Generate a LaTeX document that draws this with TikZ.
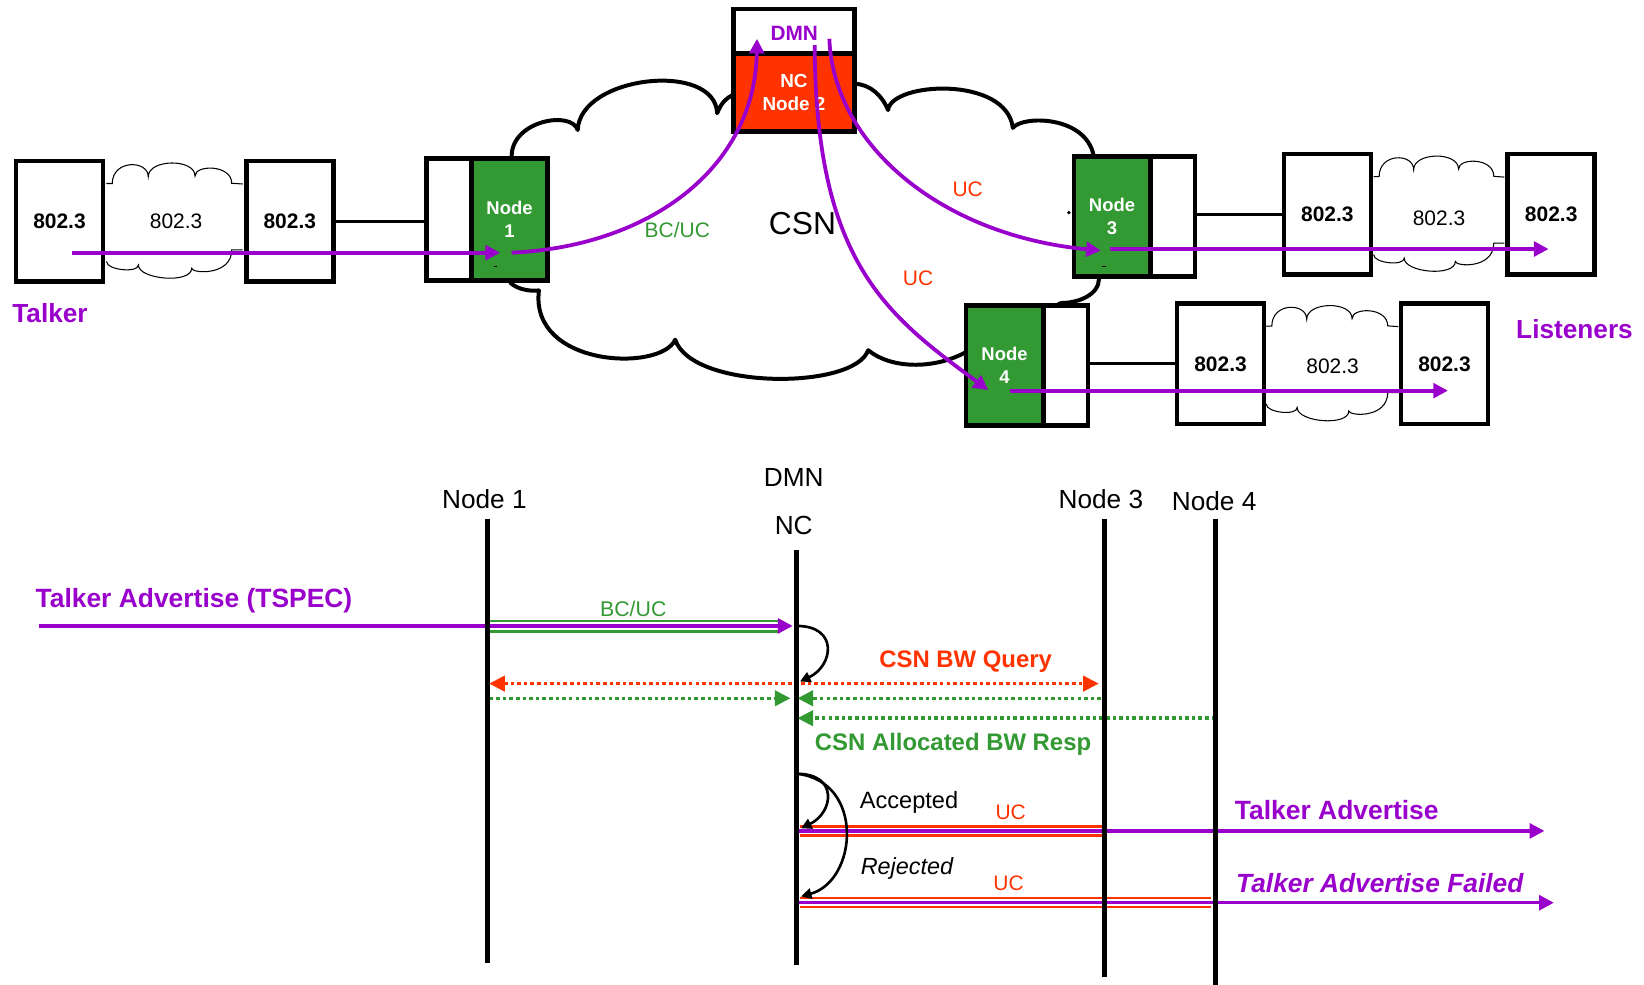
\documentclass[tikz,border=0pt]{standalone}
\usepackage{fontspec}
\setmainfont{Liberation Sans}
\usetikzlibrary{arrows.meta,calc}
\definecolor{avbpurple}{HTML}{9900CC}
\definecolor{avbgreen}{HTML}{339933}
\definecolor{avbred}{HTML}{FF3300}

\tikzset{
  ethbox/.style={draw, line width=4.5pt, fill=white, minimum width=83pt, minimum height=115pt,
    inner sep=0pt, font=\fontsize{20}{24}\selectfont\bfseries},
  port/.style={draw, line width=4.5pt, fill=white, minimum width=42.75pt, minimum height=115pt, inner sep=0pt},
  csnnode/.style={draw, line width=4.5pt, fill=avbgreen, text=white, minimum width=73pt,
    minimum height=115pt, inner sep=0pt, align=center, font=\fontsize{17.6}{22}\selectfont\bfseries},
  wire/.style={line width=3pt},
  cloudline/.style={line width=3.8pt, line join=round},
  thincloud/.style={line width=1pt},
  flow/.style={color=avbpurple, line width=3.6pt, -{Triangle[length=14pt,width=14pt]}},
  lbl/.style={inner sep=0pt},
  lifeline/.style={line width=4.7pt},
  hdr/.style={inner sep=0pt, font=\fontsize{25}{30}\selectfont},
  msgarrow/.style={color=avbpurple, line width=3.2pt, -{Triangle[length=14pt,width=14pt]}},
  gline/.style={avbgreen, line width=2.4pt},
  rline/.style={avbred, line width=2.5pt},
  dotline/.style={line width=3.4pt, dash pattern=on 3.4pt off 2.9pt},
  dottip/.tip={Triangle[length=15pt,width=14.5pt]},
  selfloop/.style={line width=2.5pt, -{Triangle[length=10pt,width=10pt]}},
  minicloud/.pic={
    \draw[thincloud] (0,-36) -- (5.6,-36)
      .. controls +(0,-23) and +(0,-16) .. (39.9,-42.5)
      .. controls +(0,-17) and +(0,-17) .. (84.5,-43.1)
      .. controls +(0,-11) and +(0,-18) .. (119.5,-36.2) -- (130,-35.5);
    \draw[thincloud] (130,27.4) -- (119.5,27.4)
      .. controls +(0,25) and +(0,5) .. (81.3,44.9)
      .. controls +(0,15) and +(0,14) .. (30.5,41.7)
      .. controls +(0,8) and +(0,8) .. (0.2,38.6) -- (0,38.6);
  }
}

\begin{document}
\begin{tikzpicture}[x=1pt,y=-1pt]
\path[use as bounding box, fill=white] (0,0) rectangle (1568,939);

% ---------------- network view ----------------
% coaxial network cloud
\draw[cloudline, fill=white] (488,149)
  .. controls (488,115) and (545,105) .. (551,124)
  .. controls (553,72) and (682,58) .. (684,108)
  .. controls (688,98) and (692,94) .. (700,90)
  -- (815,80)
  .. controls (830,80) and (842,92) .. (847,105)
  .. controls (850,78) and (960,72) .. (966,122)
  .. controls (975,110) and (1035,110) .. (1043,148)
  -- (1048,267)
  .. controls (1048,280) and (1030,289) .. (1012,289)
  -- (919,337)
  .. controls (890,352) and (850,352) .. (828,334)
  .. controls (815,372) and (660,372) .. (644,324)
  .. controls (630,355) and (505,350) .. (514,277)
  .. controls (505,278) and (494,276) .. (487,270)
  -- cycle;

% small Ethernet clouds
\pic at (101.5,211) {minicloud};
\pic[xscale=0.96] at (1310,204.4) {minicloud};
\pic[xscale=0.97] at (1207.6,347) {minicloud};

% Ethernet end stations and bridges
\node[ethbox] (boxA) at (56.75,211) {802.3};
\node[ethbox] (boxB) at (276.4,211) {802.3};
\node[ethbox] (boxC) at (1266,204.4) {802.3};
\node[ethbox] (boxD) at (1479.5,204.4) {802.3};
\node[ethbox] (boxE) at (1164.1,347) {802.3};
\node[ethbox] (boxF) at (1377.7,347) {802.3};

\node[font=\fontsize{20}{24}\selectfont, lbl] (cl1) at (168,211.4) {802.3};
\node[font=\fontsize{20}{24}\selectfont, lbl] (cl2) at (1372.5,208) {802.3};
\node[font=\fontsize{20}{24}\selectfont, lbl] (cl3) at (1271,349.7) {802.3};

% CSN nodes
\node[port, minimum height=116.4pt] (n1w) at (428.2,209.2) {};
\node[csnnode, minimum width=72.7pt, minimum height=116.4pt] (n1g) at (486,209.2) {Node\\1};
\node[csnnode, minimum width=72.75pt, minimum height=114.5pt] (n3g) at (1060.6,206.5) {Node\\3};
\node[port, minimum height=114.5pt] (n3w) at (1118.4,206.5) {};
\node[csnnode, minimum width=73.75pt, minimum height=114.5pt] (n4g) at (958.1,348.5) {Node\\4};
\node[port, minimum height=114.5pt] (n4w) at (1016.4,348.5) {};

% DMN / network coordinator
\node[draw, line width=4.5pt, fill=white, minimum width=116pt, minimum height=42.35pt, inner sep=0pt] (dmnT) at (757.25,29.8) {};
\node[draw, line width=4.5pt, fill=avbred, minimum width=116pt, minimum height=73.75pt, inner sep=0pt,
  text=white, align=center, font=\fontsize{18}{22}\selectfont\bfseries] (dmnB) at (757.25,88.5) {NC\\Node 2};
\node[lbl, text=avbpurple, font=\fontsize{19.8}{24}\selectfont\bfseries] (dmnLbl) at (757.5,32) {DMN};

% links
\draw[wire] (boxB.east) -- (n1w.west |- boxB.east);
\draw[wire] (n3w.east |- boxC.west) -- (boxC.west);
\draw[wire] (n4w.east |- boxE.west) -- (boxE.west);

% labels
\node[lbl, text=avbpurple, font=\fontsize{25}{30}\selectfont\bfseries] (talker) at (47.7,298.8) {Talker};
\node[lbl, text=avbpurple, font=\fontsize{25}{30}\selectfont\bfseries] (listeners) at (1501.7,314) {Listeners};
\node[lbl, font=\fontsize{30.3}{36}\selectfont] (csn) at (765.4,212.9) {CSN};
\node[lbl, text=avbgreen, font=\fontsize{20}{24}\selectfont] (bcuc) at (646,219) {BC/UC};
\node[lbl, text=avbred, font=\fontsize{20}{24}\selectfont] (uc3) at (923,181) {UC};
\node[lbl, text=avbred, font=\fontsize{20}{24}\selectfont] (uc4) at (875.6,265.5) {UC};

% stream path
\coordinate (tkSrc) at (69,241);
\coordinate (n1in) at (477,241);
\coordinate (n1out) at (488,241);
\coordinate (dmnIn) at (722,37);
\coordinate (dmnOut3) at (791,37);
\coordinate (dmnOut4) at (777,43);
\coordinate (n3in) at (1050,239);
\coordinate (n3out) at (1059,237.5);
\coordinate (lsn3) at (1477,237.5);
\coordinate (n4in) at (942.5,372);
\coordinate (n4out) at (963,372.6);
\coordinate (lsn4) at (1381,372.6);

\draw[flow] (tkSrc) -- (n1in);
\draw[flow] (n1out) .. controls (620,235) and (720,160) .. (dmnIn);
\draw[flow] (dmnOut3) .. controls (795,140) and (900,225) .. (n3in);
\draw[flow] (dmnOut4) .. controls (778,250) and (845,300) .. (n4in);
\draw[flow] (n3out) -- (lsn3);
\draw[flow] (n4out) -- (lsn4);

% small marks on the node boxes
\fill (471.3,253.5) rectangle (474.3,255);
\fill (1051.5,253.5) rectangle (1054.5,255);
\fill (1019.5,202.8) circle (1.8);

% ---------------- message sequence ----------------
\node[hdr] (hN1) at (462,476) {Node 1};
\node[hdr] (hDMN) at (757,455) {DMN};
\node[hdr] (hNC) at (757,501) {NC};
\node[hdr] (hN3) at (1050,476) {Node 3};
\node[hdr] (hN4) at (1158,478) {Node 4};

\coordinate (l1t) at (465,495);  \coordinate (l1b) at (465,918);
\coordinate (lnt) at (760,525);  \coordinate (lnb) at (760,920);
\coordinate (l3t) at (1053,495); \coordinate (l3b) at (1053,932);
\coordinate (l4t) at (1159,495); \coordinate (l4b) at (1159,942);

\coordinate (ta) at (37,597);
\coordinate (gU) at (0,592.2);
\coordinate (gD) at (0,602.4);
\coordinate (q) at (0,652);
\coordinate (r1) at (0,666);
\coordinate (r2) at (0,685);
\coordinate (dec) at (0,738);
\coordinate (acc) at (0,792.5);
\coordinate (accU) at (0,788);
\coordinate (accD) at (0,797);
\coordinate (rej) at (0,861);
\coordinate (rejU) at (0,856.5);
\coordinate (rejD) at (0,865.2);
\coordinate (accEnd) at (1473,792.5);
\coordinate (rejEnd) at (1482,861);

% talker advertise towards the DMN
\draw[gline, shorten <=2pt, shorten >=16pt] (l1t |- gU) -- (lnt |- gU);
\draw[gline, shorten <=2pt, shorten >=16pt] (l1t |- gD) -- (lnt |- gD);
\draw[msgarrow, shorten >=4pt] (ta) -- (lnt |- ta);

% bandwidth query and responses
\draw[dotline, avbred, dottip-dottip, shorten <=1.5pt, shorten >=5pt] (l1t |- q) -- (l3t |- q);
\draw[dotline, avbgreen, -dottip, shorten <=2pt, shorten >=6pt] (l1t |- r1) -- (lnt |- r1);
\draw[dotline, avbgreen, -dottip, shorten <=3pt, shorten >=0.5pt] (l3t |- r1) -- (lnt |- r1);
\draw[dotline, avbgreen, -dottip, shorten >=0.5pt] (l4t |- r2) -- (lnt |- r2);

% accepted / rejected outcome
\draw[rline, shorten <=3pt, shorten >=2pt] (lnt |- accU) -- (l3t |- accU);
\draw[rline, shorten <=3pt, shorten >=2pt] (lnt |- accD) -- (l3t |- accD);
\draw[msgarrow, shorten <=2pt] (lnt |- acc) -- (accEnd);
\draw[rline, shorten <=3pt, shorten >=4pt] (lnt |- rejU) -- (l4t |- rejU);
\draw[rline, shorten <=3pt, shorten >=4pt] (lnt |- rejD) -- (l4t |- rejD);
\draw[msgarrow, shorten <=2pt] (lnt |- rej) -- (rejEnd);

% lifelines
\draw[lifeline] (l1t) -- (l1b);
\draw[lifeline] (lnt) -- (lnb);
\draw[lifeline] (l3t) -- (l3b);
\draw[lifeline] (l4t) -- (l4b);

% DMN processing loops
\draw[selfloop] (lnt |- ta) .. controls +(40,0) and +(32,-15) .. ($(lnt |- q)+(3,-2)$);
\draw[selfloop] (lnt |- dec) .. controls +(40,0) and +(31,-15) .. ($(lnt |- acc)+(4,-2.5)$);
\draw[selfloop] (lnt |- dec) .. controls +(65,7) and +(54,-15) .. ($(lnt |- rej)+(4,-6)$);

% message labels
\node[lbl, text=avbpurple, font=\fontsize{25.2}{30}\selectfont\bfseries] (mTA) at (185,573) {Talker Advertise (TSPEC)};
\node[lbl, text=avbgreen, font=\fontsize{20.3}{24}\selectfont] (mBC) at (604,581) {BC/UC};
\node[lbl, text=avbred, font=\fontsize{22.8}{27}\selectfont\bfseries] (mQ) at (921,631) {CSN BW Query};
\node[lbl, text=avbgreen, font=\fontsize{22.8}{27}\selectfont\bfseries] (mR) at (909,709.5) {CSN Allocated BW Resp};
\node[lbl, font=\fontsize{22.5}{27}\selectfont] (mAcc) at (867,765) {Accepted};
\node[lbl, text=avbred, font=\fontsize{20}{24}\selectfont] (mUC1) at (964,775) {UC};
\node[lbl, text=avbpurple, font=\fontsize{25.2}{30}\selectfont\bfseries] (mTA2) at (1275,772.5) {Talker Advertise};
\node[lbl, font=\fontsize{22.3}{27}\selectfont\itshape] (mRej) at (865,828) {Rejected};
\node[lbl, text=avbred, font=\fontsize{20}{24}\selectfont] (mUC2) at (962,842) {UC};
\node[lbl, text=avbpurple, font=\fontsize{25.1}{30}\selectfont\bfseries\itshape] (mTAF) at (1316,842) {Talker Advertise Failed};
\end{tikzpicture}
\end{document}
